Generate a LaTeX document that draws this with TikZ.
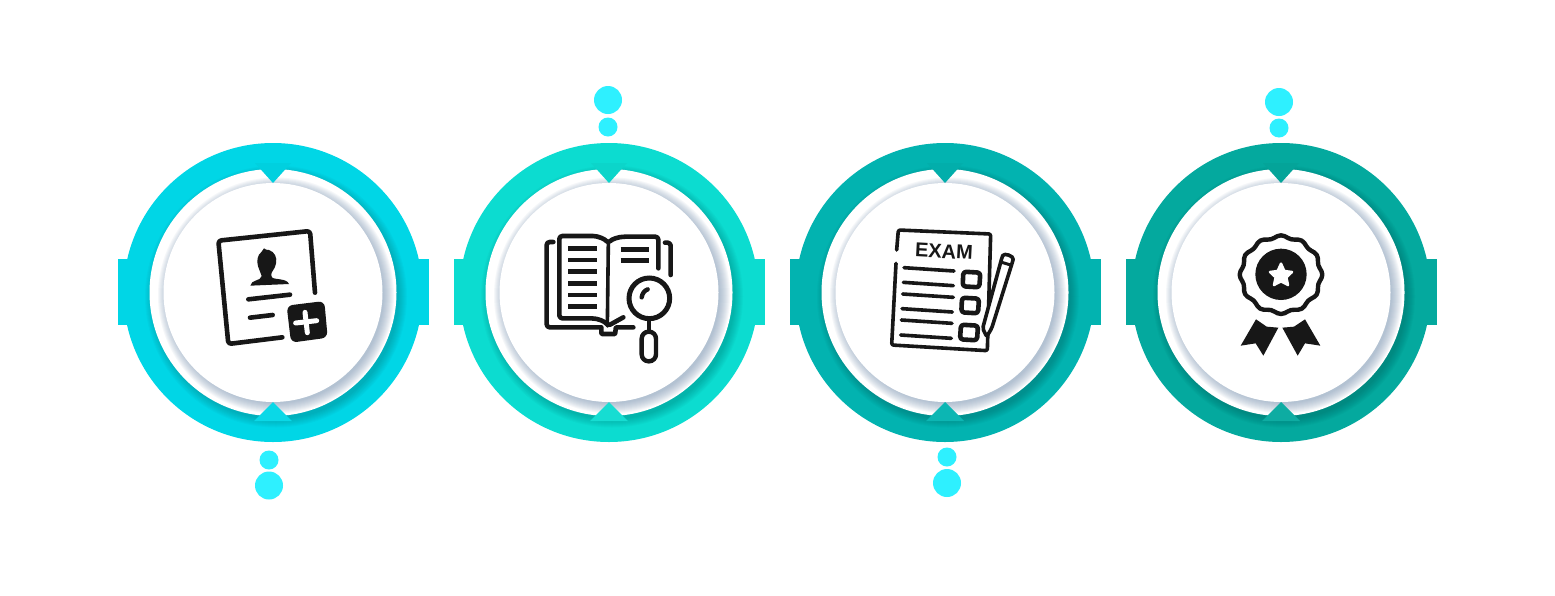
\documentclass[tikz,border=0pt]{standalone}
\usepackage{fontspec}
\setmainfont{Liberation Sans}
\definecolor{ringA}{HTML}{00D6E6}
\definecolor{ringB}{HTML}{0CDCD0}
\definecolor{ringC}{HTML}{02B3B0}
\definecolor{ringD}{HTML}{04A99E}
\definecolor{dotc}{HTML}{2EF0FF}
\definecolor{ink}{HTML}{171717}
\definecolor{halo}{HTML}{7F98B5}
\tikzset{
  ln/.style={draw=ink,line width=4.6pt,line cap=round,line join=round,rounded corners=3pt},
  thinln/.style={draw=ink,line width=3.6pt,line cap=round,line join=round,rounded corners=2pt},
  bar/.style={draw=ink,line width=4.4pt,line cap=butt},
  dot/.style={circle,fill=dotc,inner sep=0pt,minimum size=#1},
}
\newcommand{\ringunit}[2]{%
  \begin{scope}[shift={(#1,292.5)}]
    \fill[#2] (-155.5,-33.5) rectangle (155.5,32.5);
    \fill[#2] (0,0) circle (149.5);
    \foreach \r in {123,124,...,131}{\fill[black,opacity=0.018] (3,4) circle (\r);}
    \fill[white] (0,0) circle (123.5);
    \foreach \r in {108,109,...,118}{\fill[halo,opacity=0.07] (3,3) circle (\r);}
    \fill[white] (0,0) circle (109.5);
    \fill[#2!97!black] (-18,-129.5) -- (18,-129.5) -- (0,-109.5) -- cycle;
    \fill[#2!96!white] (-19,128.5) -- (19,128.5) -- (0,109.5) -- cycle;
  \end{scope}}
\begin{document}
\begin{tikzpicture}[x=1pt,y=-1pt]
\useasboundingbox (0,0) rectangle (1555,595);
\fill[white] (0,0) rectangle (1555,595);
\ringunit{273}{ringA}
\ringunit{609}{ringB}
\ringunit{945}{ringC}
\ringunit{1281}{ringD}

\node[dot=19pt] (a1) at (269,460) {};
\node[dot=28pt] (a2) at (269,485.5) {};
\node[dot=28pt] (b1) at (608,100) {};
\node[dot=19pt] (b2) at (608,127) {};
\node[dot=19pt] (c1) at (947,457) {};
\node[dot=28pt] (c2) at (947,483) {};
\node[dot=28pt] (d1) at (1279,102) {};
\node[dot=19pt] (d2) at (1279,128) {};

% icon 1
\begin{scope}[shift={(205,220)},scale=1/3]
  \draw[ln] (330,218) -- (315,33) -- (40,62) -- (70,372) -- (232,352);
  \draw[ln] (130,238) -- (255,224);
  \draw[ln] (135,293) -- (203,285);
  \fill[ink] (136,197) .. controls (138,178) and (168,184) .. (170,168)
    .. controls (170,160) and (168,158) .. (164,152)
    .. controls (156,135) and (154,118) .. (162,104)
    .. controls (166,97) and (173,95) .. (177,85)
    .. controls (180,90) and (186,89) .. (192,90)
    .. controls (209,96) and (217,112) .. (213,130)
    .. controls (211,143) and (204,150) .. (200,158)
    .. controls (198,163) and (198,168) .. (201,172)
    .. controls (208,180) and (245,174) .. (252,192) -- cycle;
  \fill[ink,rounded corners=6pt] (245,257) -- (358,243) -- (368,353) -- (258,368) -- cycle;
  \draw[white,line width=5pt,line cap=round] (272,309) -- (335,302);
  \draw[white,line width=5pt,line cap=round] (300,277) -- (307,338);
\end{scope}

% icon 2
\begin{scope}[shift={(530,220)},scale=1/3]
  \draw[ln] (385,145) -- (385,50) -- (295,50) .. controls (265,50) and (245,58) .. (235,70)
     .. controls (225,58) and (205,48) .. (180,48) -- (88,48) -- (88,295) -- (175,295)
     .. controls (205,295) and (225,305) .. (233,318) -- (280,292);
  \draw[thinln] (235,70) -- (232,318);
  \draw[ln] (70,66) -- (50,66) -- (50,322) -- (205,322) .. controls (215,322) and (212,342) .. (225,342)
     -- (245,342) .. controls (258,342) and (255,322) .. (268,322) -- (310,322);
  \draw[ln] (405,68) -- (422,68) -- (422,165);
  \foreach \yy in {85,120,155,190,225,260}{\draw[bar] (115,\yy) -- (201,\yy);}
  \foreach \yy in {88,122}{\draw[bar] (272,\yy) -- (358,\yy);}
  \draw[ink,line width=5pt] (358,235) circle (61);
  \draw[ink,line width=4.4pt,line cap=round] (335,232) .. controls (337,220) and (343,212) .. (353,208);
  \draw[ink,line width=4.4pt] (357,296) -- (357,335);
  \draw[ink,line width=4.4pt,rounded corners=7pt] (335,335) rectangle (378,424);
\end{scope}

% icon 3
\begin{scope}[shift={(880,220)},scale=1/3]
  \draw[thinln] (50,90) -- (55,30) -- (332,42) -- (322,392) -- (35,375) -- (48,130);
  \draw[thinln,fill=white] (366,112) .. controls (372,98) and (402,108) .. (398,124) -- (335,325) -- (320,350) -- (308,325) -- cycle;
  \draw[ink,line width=3pt] (362,126) -- (392,135);
  \draw[thinln] (72,143) -- (222,153);
  \draw[thinln] (70,187) -- (220,197);
  \draw[thinln] (68,222) -- (220,232);
  \draw[thinln] (66,266) -- (217,276);
  \draw[thinln] (64,300) -- (216,310);
  \draw[thinln] (62,345) -- (214,355);
  \draw[ln,fill=white] (250,155) -- (301,158) -- (298,202) -- (248,199) -- cycle;
  \draw[ln,fill=white] (246,233) -- (297,236) -- (294,280) -- (244,277) -- cycle;
  \draw[ln,fill=white] (243,314) -- (294,317) -- (291,361) -- (240,358) -- cycle;
  \node[font=\bfseries\fontsize{20}{20}\selectfont,text=ink,rotate=-3,inner sep=0pt] (exam) at (192,94) {EXAM};
\end{scope}

% icon 4
\begin{scope}[shift={(1225,225)},scale=1/3]
  \draw[ink,line width=4.4pt,line join=round] plot[smooth cycle,samples=72,domain=0:355] ({168+(120+4*cos(12*\x))*cos(\x)},{149+(114+4*cos(12*\x))*sin(\x)});
  \fill[ink] (168,148) circle (77);
  \fill[white,draw=white,line width=2.5pt,line join=round]
     (168,116) -- (178,138) -- (201,141) -- (184,157) -- (189,180) -- (168,169) -- (147,180) -- (152,157) -- (135,141) -- (158,138) -- cycle;
  \fill[ink] (93,283) -- (47,362) -- (92,355) -- (115,392) -- (160,308) -- (125,305) -- cycle;
  \fill[ink] (240,283) -- (286,362) -- (240,355) -- (218,392) -- (172,308) -- (207,305) -- cycle;
\end{scope}
\end{tikzpicture}
\end{document}
